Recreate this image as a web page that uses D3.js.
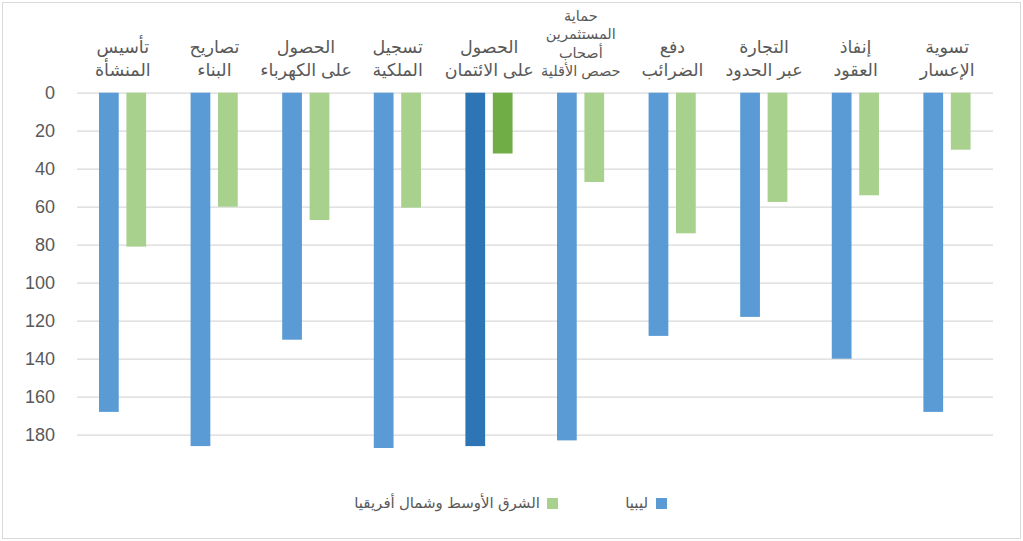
<!DOCTYPE html>
<html>
<head>
<meta charset="utf-8">
<script src="https://cdn.jsdelivr.net/npm/d3@7"></script>
<style>
  body { margin: 0; background: #fff; }
  text { font-family: "Liberation Sans", "DejaVu Sans", sans-serif; fill: #595959; }
</style>
</head>
<body>
<div class="graph"></div>
<script>
// categories, left to right (each label broken into its lines with \n)
var categories = [
  'تأسيس\nالمنشأة',
  'تصاريح\nالبناء',
  'الحصول\nعلى الكهرباء',
  'تسجيل\nالملكية',
  'الحصول\nعلى الائتمان',
  'حماية\nالمستثمرين\nأصحاب\nحصص الأقلية',
  'دفع\nالضرائب',
  'التجارة\nعبر الحدود',
  'إنفاذ\nالعقود',
  'تسوية\nالإعسار'
];

// ranking values
var libya = [168, 186, 130, 187, 186, 183, 128, 118, 140, 168];
var mena = [81, 60, 67, 60.5, 32, 47, 74, 57.5, 54, 30];

var seriesNames = ['ليبيا', 'الشرق الأوسط وشمال أفريقيا'];
var yTicks = [0, 20, 40, 60, 80, 100, 120, 140, 160, 180];
var highlight = 4; // the credit column is drawn darker

var width = 1023, height = 541;
var margin = {top: 93, right: 30, bottom: 106, left: 77};

var colors = ['#5b9bd5', '#a9d18e'];
var darkColors = ['#2e75b6', '#70ad47'];

var svg = d3.select('.graph').append('svg')
    .attr('width', width)
    .attr('height', height);

// outer chart border
svg.append('rect')
    .attr('x', 2.5).attr('y', 2.5)
    .attr('width', width - 5).attr('height', height - 5)
    .attr('fill', '#fff')
    .attr('stroke', '#d9d9d9');

var x0 = d3.scaleBand()
    .domain(d3.range(categories.length))
    .range([margin.left, 993]);

var x1 = d3.scaleBand()
    .domain([0, 1])
    .range([x0.bandwidth() * 0.24, x0.bandwidth() * 0.755])
    .paddingInner(0.28);

var y = d3.scaleLinear()
    .domain([0, 180])
    .range([92.7, 434.7]);

// gridlines + tick labels
var yAxis = d3.axisLeft(y)
    .tickValues(yTicks)
    .tickSize(-(993 - margin.left))
    .tickPadding(22);

var gAxis = svg.append('g')
    .attr('class', 'y axis')
    .attr('transform', 'translate(' + margin.left + ',0)')
    .call(yAxis);

gAxis.select('.domain').remove();
gAxis.selectAll('.tick line')
    .attr('stroke', '#d9d9d9')
    .attr('stroke-width', 1.3);
gAxis.selectAll('.tick text')
    .attr('fill', '#595959')
    .style('font-size', '18px')
    .style('font-family', '"Liberation Sans", Arial, sans-serif');

// bars
var rows = categories.map(function(c, i) {
  return {index: i, values: [libya[i], mena[i]]};
});

var group = svg.selectAll('.cat')
    .data(rows)
    .enter().append('g')
    .attr('class', 'cat')
    .attr('transform', function(d) { return 'translate(' + x0(d.index) + ',0)'; });

group.selectAll('rect')
    .data(function(d) {
      return d.values.map(function(v, s) { return {s: s, v: v, hi: d.index === highlight}; });
    })
    .enter().append('rect')
    .attr('x', function(d) { return x1(d.s); })
    .attr('y', y(0))
    .attr('width', x1.bandwidth())
    .attr('height', function(d) { return y(d.v) - y(0); })
    .attr('fill', function(d) { return d.hi ? darkColors[d.s] : colors[d.s]; });

// category labels, bottom aligned above the zero line
group.append('text')
    .attr('text-anchor', 'middle')
    .attr('direction', 'rtl')
    .attr('transform', 'translate(' + (x0.bandwidth() / 2) + ',0)')
    .each(function(d) {
      var lines = categories[d.index].split('\n');
      var small = lines.length > 2;
      var lh = small ? 18.3 : 23;
      var t = d3.select(this).style('font-size', small ? '14.5px' : '17.5px');
      lines.forEach(function(line, k) {
        t.append('tspan')
          .attr('x', 0)
          .attr('y', 76 - (lines.length - 1 - k) * lh)
          .text(line);
      });
    });

// legend (right to left)
var legend = svg.append('g').attr('class', 'legend');
var legendItems = [
  {name: seriesNames[0], box: 656, textRight: 648},
  {name: seriesNames[1], box: 547, textRight: 540}
];
legend.selectAll('rect')
    .data(legendItems)
    .enter().append('rect')
    .attr('x', function(d) { return d.box; })
    .attr('y', 498)
    .attr('width', 11)
    .attr('height', 11)
    .attr('fill', function(d, i) { return colors[i]; });

legend.selectAll('text')
    .data(legendItems)
    .enter().append('text')
    .attr('x', function(d) { return d.textRight; })
    .attr('y', 508)
    .attr('text-anchor', 'end')
    .style('font-size', '15px')
    .text(function(d) { return d.name; });
</script>
</body>
</html>
